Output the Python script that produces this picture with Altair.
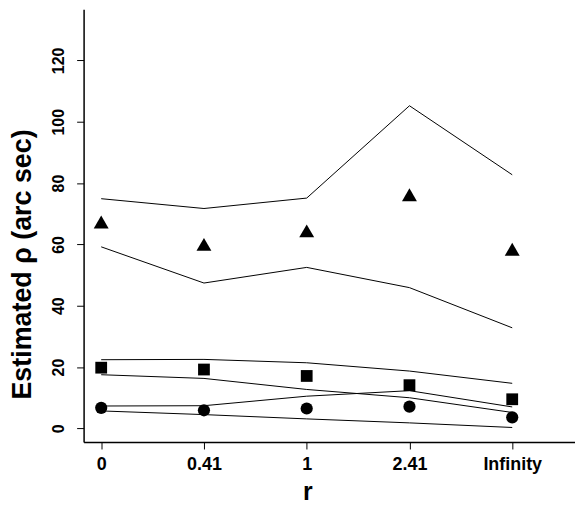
import json
import altair as alt
import pandas as pd

r_labels = ["0", "0.41", "1", "2.41", "Infinity"]

tri_est = [67.3, 60.0, 64.4, 76.2, 58.4]
tri_upper = [74.9, 71.7, 75.1, 105.2, 82.7]
tri_lower = [59.2, 47.4, 52.5, 45.9, 32.8]

sq_est = [19.8, 19.2, 17.1, 14.1, 9.5]
sq_upper = [22.4, 22.5, 21.4, 18.7, 14.7]
sq_lower = [17.5, 16.3, 12.7, 10.0, 5.2]

ci_est = [6.7, 5.9, 6.5, 7.1, 3.6]
ci_upper = [7.3, 7.4, 10.5, 12.3, 7.0]
ci_lower = [5.7, 4.5, 3.1, 1.8, 0.3]

y_ticks = [0, 20, 40, 60, 80, 100, 120]

groups = [
    ("triangle", tri_est, tri_lower, tri_upper),
    ("square", sq_est, sq_lower, sq_upper),
    ("circle", ci_est, ci_lower, ci_upper),
]

pt_rows, ln_rows = [], []
for name, est, lo, hi in groups:
    for i, lab in enumerate(r_labels):
        pt_rows.append(dict(pos=i + 1, group=name, est=est[i]))
        ln_rows.append(dict(pos=i + 1, line=name + "_lower", value=lo[i]))
        ln_rows.append(dict(pos=i + 1, line=name + "_upper", value=hi[i]))
pts = pd.DataFrame(pt_rows)
lns = pd.DataFrame(ln_rows)

FONT = "Liberation Sans"
label_expr = json.dumps(r_labels) + "[datum.value - 1]"

x_enc = alt.X(
    "pos:Q",
    scale=alt.Scale(domain=[0.8287, 5.611], nice=False, zero=False),
    axis=alt.Axis(
        values=[1, 2, 3, 4, 5], labelExpr=label_expr, title="r", grid=False,
        domainColor="black", domainWidth=1.5, tickColor="black", tickWidth=1, tickSize=7,
        labelFont=FONT, labelFontWeight="bold", labelFontSize=18, labelColor="black",
        labelPadding=7, labelFlush=False, labelOverlap=False,
        titleFont=FONT, titleFontWeight="bold", titleFontSize=25, titleColor="black",
        titleX=225, titleY=58, titleAlign="center", titleBaseline="alphabetic",
    ),
)


def y_enc(field):
    return alt.Y(
        field,
        scale=alt.Scale(domain=[-4.44, 136.65], nice=False, zero=False),
        axis=alt.Axis(
            values=y_ticks, title="Estimated ρ (arc sec)", grid=False,
            domainColor="black", domainWidth=1.5, tickColor="black", tickWidth=1, tickSize=7,
            labelFont=FONT, labelFontWeight="bold", labelFontSize=16, labelColor="black",
            labelAngle=270, labelAlign="center", labelBaseline="middle", labelPadding=18,
            labelFlush=False, labelOverlap=False,
            titleFont=FONT, titleFontWeight="bold", titleFontSize=27, titleColor="black",
            titleAngle=270, titleX=-61, titleY=256, titleAlign="center", titleBaseline="middle",
        ),
    )


lines = alt.Chart(lns).mark_line(color="black", strokeWidth=1).encode(
    x=x_enc, y=y_enc("value:Q"), detail="line:N"
)

shape_map = {"triangle": ("triangle-up", 225), "square": ("square", 140), "circle": ("circle", 150)}
layers = [lines]
for name, (shape, size) in shape_map.items():
    layers.append(
        alt.Chart(pts).transform_filter(alt.datum.group == name)
        .mark_point(shape=shape, size=size, filled=True, color="black", opacity=1, strokeWidth=0)
        .encode(x=x_enc, y=y_enc("est:Q"))
    )

chart = (
    alt.layer(*layers)
    .properties(
        width=494, height=435,
        autosize=alt.AutoSizeParams(type="none"),
        padding={"left": 76, "top": 0, "right": 0, "bottom": 63},
        background="white",
    )
    .configure_view(strokeWidth=0)
)

chart.save("out.html", embed_options={"renderer": "svg", "actions": False})
